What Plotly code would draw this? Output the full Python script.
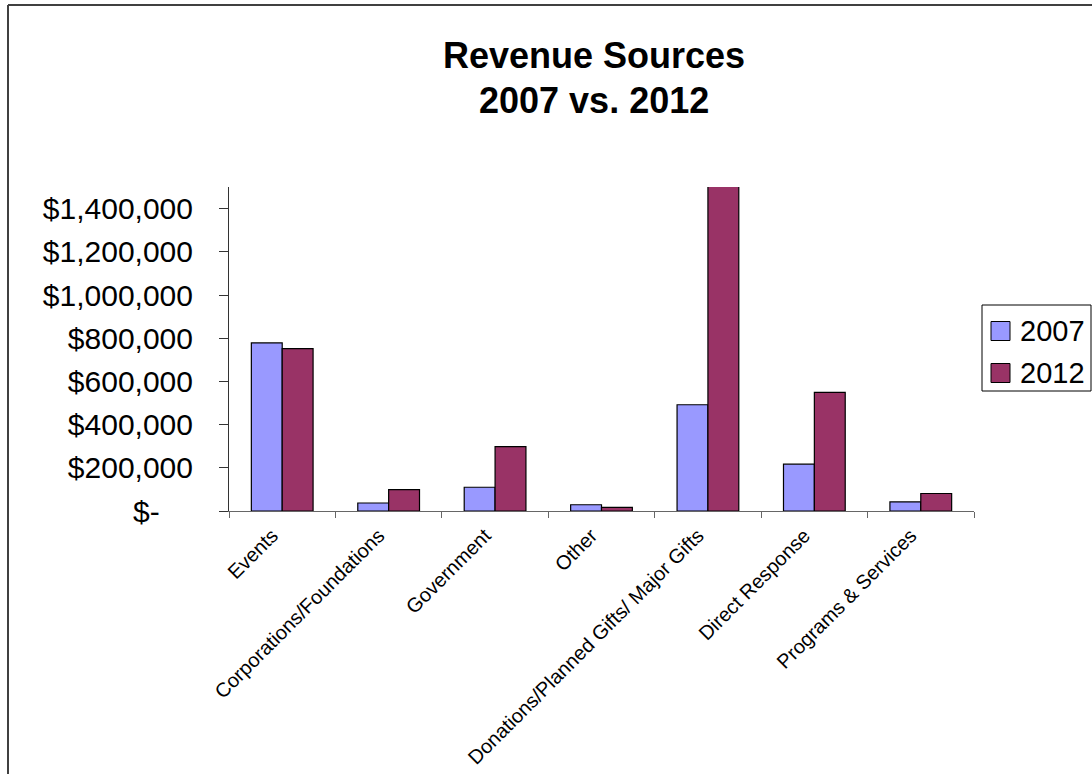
import plotly.graph_objects as go

# Revenue by source, 2007 vs. 2012
categories = [
    "Events",
    "Corporations/Foundations",
    "Government",
    "Other",
    "Donations/Planned Gifts/ Major Gifts",
    "Direct Response",
    "Programs & Services",
]
rev_2007 = [778000, 37000, 110000, 29000, 492000, 217000, 42000]
rev_2012 = [752000, 99000, 298000, 17000, 1560000, 549000, 81000]

series_names = ["2007", "2012"]
series_colors = ["#9999FF", "#993366"]

y_tick_values = [0, 200000, 400000, 600000, 800000, 1000000, 1200000, 1400000]
y_tick_labels = ["$-" + "\u00a0" * 4, "$200,000", "$400,000", "$600,000",
                 "$800,000", "$1,000,000", "$1,200,000", "$1,400,000"]

FONT = "Liberation Sans, Arial, sans-serif"
W, H = 1092, 774
L, R, T, B = 229, 118, 187, 263  # plot area in page pixels

def px_x(px):
    return (px - L) / (W - L - R)

def px_y(py):
    return (H - B - py) / (H - T - B)

fig = go.Figure()
for name, vals, col in zip(series_names, [rev_2007, rev_2012], series_colors):
    fig.add_trace(go.Bar(
        x=categories, y=vals, name=name,
        marker=dict(color=col, line=dict(color="#000000", width=1.2)),
        showlegend=False,
    ))

frame = dict(color="#404040", width=2)
shapes = [
    # chart frame (top and left edges)
    dict(type="line", xref="paper", yref="paper",
         x0=px_x(8), x1=px_x(1110), y0=px_y(5), y1=px_y(5), line=frame),
    dict(type="line", xref="paper", yref="paper",
         x0=px_x(8), x1=px_x(8), y0=px_y(5), y1=px_y(800), line=frame),
    # legend box
    dict(type="rect", xref="paper", yref="paper",
         x0=px_x(982), x1=px_x(1091), y0=px_y(305), y1=px_y(391),
         line=dict(color="#000000", width=1), fillcolor="#FFFFFF"),
]
annotations = [
    dict(text="<b>Revenue Sources</b>", xref="paper", yref="paper",
         x=px_x(594), y=px_y(55), xanchor="center", yanchor="middle",
         showarrow=False, font=dict(family=FONT, size=36, color="#000000")),
    dict(text="<b>2007 vs. 2012</b>", xref="paper", yref="paper",
         x=px_x(594), y=px_y(101), xanchor="center", yanchor="middle",
         showarrow=False, font=dict(family=FONT, size=36, color="#000000")),
]
for i, (name, col) in enumerate(zip(series_names, series_colors)):
    cy = 331 + 42 * i
    shapes.append(dict(type="rect", xref="paper", yref="paper",
                       x0=px_x(991), x1=px_x(1010), y0=px_y(cy - 9.5), y1=px_y(cy + 9.5),
                       line=dict(color="#000000", width=1), fillcolor=col))
    annotations.append(dict(text=name, xref="paper", yref="paper",
                            x=px_x(1018), y=px_y(cy), xanchor="left", yanchor="middle",
                            showarrow=False,
                            font=dict(family=FONT, size=29, color="#000000")))

fig.update_layout(
    template="none",
    width=W, height=H, autosize=False,
    margin=dict(l=L, r=R, t=T, b=B, pad=0),
    paper_bgcolor="#FFFFFF", plot_bgcolor="#FFFFFF",
    barmode="group", bargap=0.42, bargroupgap=0,
    font=dict(family=FONT, color="#000000"),
    shapes=shapes, annotations=annotations,
    xaxis=dict(
        type="category", range=[-0.5, 6.5], automargin=False,
        showline=True, linecolor="#666666", linewidth=1,
        ticks="outside", tickson="boundaries", ticklen=6, tickcolor="#666666",
        tickangle=-45, ticklabelshift=-10, ticklabelstandoff=4,
        tickfont=dict(family=FONT, size=20, color="#000000"),
        showgrid=False, zeroline=False,
    ),
    yaxis=dict(
        range=[0, 1500000], automargin=False,
        showline=True, linecolor="#333333", linewidth=1,
        ticks="outside", ticklen=9, tickcolor="#333333",
        tickvals=y_tick_values, ticktext=y_tick_labels,
        ticklabelstandoff=20,
        tickfont=dict(family=FONT, size=30, color="#000000"),
        showgrid=False, zeroline=False,
    ),
)

fig.write_html("out.html")
